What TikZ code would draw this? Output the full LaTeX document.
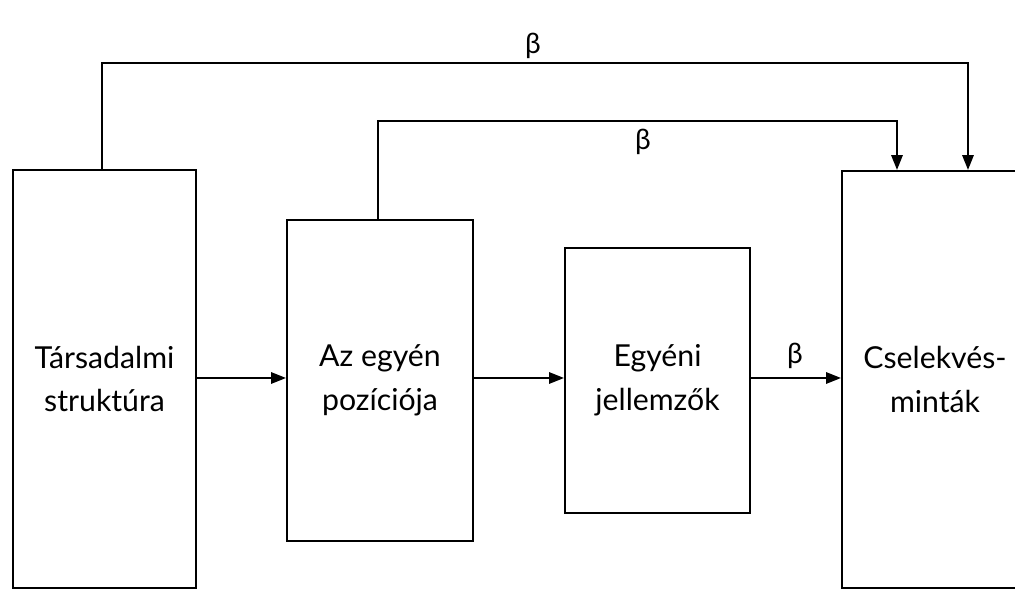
\documentclass[tikz,border=0pt]{standalone}
\usepackage{fontspec}
\setmainfont{Lato}
\usetikzlibrary{arrows.meta}

\begin{document}
\begin{tikzpicture}[x = 0.025cm, y = -0.025cm, line width = 1.4pt,
    >={Triangle[length = 10.5pt, width = 8pt]},
    box/.style = {draw, align = center, inner sep = 0pt,
      font = \fontsize{21.5}{31}\selectfont},
    lbl/.style = {font = \fontsize{20}{22}\selectfont}]
  \clip[use as bounding box] (0, 0) rectangle (1015, 589);
  % boxes
  \node[box, minimum width = 4.575cm, minimum height = 10.45cm] (soc) at (104.5, 379) {Társadalmi\\struktúra};
  \node[box, minimum width = 4.65cm, minimum height = 8.025cm] (pos) at (380, 380.5) {Az egyén\\pozíciója};
  \node[box, minimum width = 4.625cm, minimum height = 6.625cm] (jel) at (657.5, 380.5) {Egyéni\\jellemzők};
  \node[box, minimum width = 4.65cm, minimum height = 10.425cm] (cse) at (935, 379.5) {Cselekvés-\\minták};
  % horizontal arrows
  \draw[->] (soc.east |- 0, 378) -- (pos.west |- 0, 378);
  \draw[->] (pos.east |- 0, 378) -- (jel.west |- 0, 378);
  \draw[->] (jel.east |- 0, 378) -- (cse.west |- 0, 378);
  \node[lbl] (b3) at (795, 356) {β};
  % upper paths
  \coordinate (t1) at (968, 63);
  \coordinate (t2) at (897, 121);
  \draw[->] (soc.north) ++(-2.5, 0) |- (t1) -- (t1 |- cse.north);
  \draw[->] (pos.north) ++(-2, 0) |- (t2) -- (t2 |- cse.north);
  \node[lbl] (b1) at (533, 46) {β};
  \node[lbl] (b2) at (643, 142) {β};
\end{tikzpicture}
\end{document}
